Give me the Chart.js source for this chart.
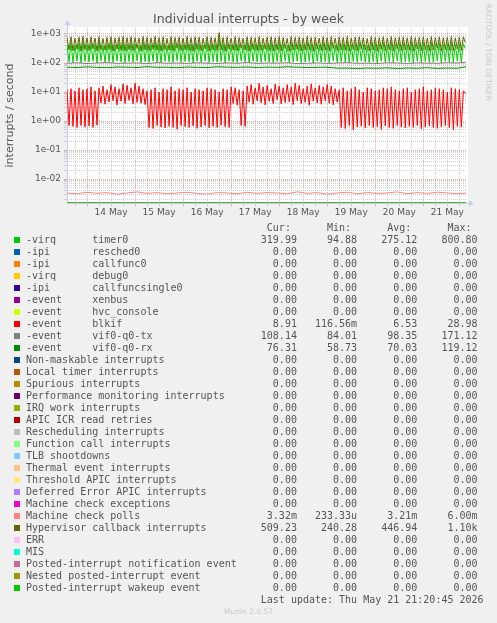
<!DOCTYPE html>
<html>
<head>
<meta charset="utf-8">
<title>Individual interrupts - by week</title>
<script src="https://cdn.jsdelivr.net/npm/chart.js@4.4.1/dist/chart.umd.min.js"></script>
<style>
  body { margin: 0; background: #f0f0f0; width: 497px; height: 623px; overflow: hidden; position: relative; font-family: "DejaVu Sans", sans-serif; color: #555; }
  #chart { position: absolute; left: 0; top: 0; }
  .title { position: absolute; left: 0; width: 497px; top: 11px; text-align: center; font-size: 12.5px; line-height: 16px; color: #555; }
  .rrd { position: absolute; left: 484px; top: 4px; writing-mode: vertical-rl; font-size: 7.5px; color: #c8c8c8; }
  .legend { position: absolute; left: 0; top: 0; font-family: "DejaVu Sans Mono", monospace; font-size: 10px; color: #555; }
  .row { position: absolute; left: 26px; height: 12px; line-height: 12px; white-space: pre; }
  .sw { position: absolute; left: 14px; width: 6px; height: 6px; }
  .munin { position: absolute; left: 0; width: 497px; top: 607px; text-align: center; font-size: 7.5px; line-height: 10px; color: #c8c8c8; }
</style>
</head>
<body>
<canvas id="chart" width="497" height="623"></canvas>
<div class="title">Individual interrupts - by week</div>
<div class="rrd">RRDTOOL / TOBI OETIKER</div>
<div class="legend" id="legend"></div>
<div class="munin">Munin 2.0.57</div>
<script>
// hours counted from 13 May 00:00
const X_MIN = 14;          // 13 May 14:00
const X_MAX = 213.33;      // 21 May 21:20
const Y_MIN = 0.00149;
const Y_MAX = 1610;

// oscillating series, one value per hour starting at X_MIN
const TIMER0 = [
  450,110, 500,105, 420,118, 480,102, 530,112, 440,108, 490,115, 460,100, 540,120, 400,106,
  470,112, 510,104, 430,116, 480,109, 520,101, 450,113, 500,107, 460,119, 420,103, 510,111,
  480,105, 440,117, 530,108, 460,102, 490,114, 400,110, 510,106, 470,120, 480,104, 430,112,
  520,109, 450,101, 500,115, 470,107, 420,118, 510,103, 480,111, 440,106, 800,113, 460,100,
  490,116, 430,108, 510,104, 460,119, 420,110, 500,102, 480,114, 450,107, 520,105, 430,117,
  480,109, 500,103, 450,112, 530,106, 460,118, 410,101, 510,110, 470,115, 490,104, 440,108,
  520,113, 460,100, 480,116, 430,107, 500,111, 470,103, 510,119, 420,105, 490,112, 460,109,
  540,102, 440,114, 480,106, 500,117, 450,108, 410,104, 510,110, 470,101, 460,115, 500,107,
  430,113, 520,103, 450,118, 480,105, 490,111, 440,109, 530,102, 460,116, 480,106, 500,112,
  420,104, 510,108, 460,119, 490,101, 450,114, 470,110, 520,105, 440,117, 480,107, 460,320
];
const HYPERVISOR = [
  760,280, 800,265, 720,300, 780,255, 820,290, 740,270, 790,310, 730,260, 810,285, 700,275,
  770,295, 810,258, 740,305, 780,272, 820,262, 750,288, 800,268, 760,315, 720,255, 810,282,
  770,266, 740,298, 820,276, 760,259, 790,292, 710,280, 810,263, 760,320, 780,270, 730,286,
  820,274, 750,256, 800,296, 770,268, 720,308, 810,261, 780,284, 740,270, 1100,293, 760,255,
  790,302, 730,278, 810,262, 760,318, 720,280, 800,257, 780,294, 750,267, 810,275, 730,305,
  780,272, 800,260, 750,289, 820,266, 760,312, 710,254, 810,281, 770,297, 790,263, 740,279,
  820,291, 760,256, 780,303, 730,270, 800,284, 760,261, 810,316, 720,268, 790,288, 760,274,
  820,259, 740,296, 780,265, 800,309, 750,277, 710,262, 810,283, 770,255, 760,299, 800,271,
  730,290, 810,263, 750,311, 780,269, 790,285, 740,276, 820,258, 760,304, 770,267, 800,292,
  720,262, 810,280, 760,318, 790,257, 750,294, 770,275, 810,264, 740,306, 780,272, 790,509
];
const BLKIF = [
  12,0.7, 13,0.65, 11,0.6, 14,0.7, 12,0.62, 13,0.68, 15,0.6, 11,0.72,
  14,4.2, 16,3.8, 12,4.5, 18,5.0, 15,3.6, 13,4.8, 19,4.0, 17,5.2, 14,3.9, 20,4.4, 16,4.1, 13,3.7,
  11,0.6, 12,0.55, 14,0.7, 10,0.62, 13,0.58, 12,0.66, 15,0.6, 11,0.52, 13,0.7, 12,0.64, 14,0.6,
  10,0.68, 13,0.56, 12,0.62, 11,0.7, 14,0.58, 13,0.66, 12,0.6, 10,0.72, 13,0.64, 12,0.6,
  15,4.0, 14,3.5,
  12,0.7, 11,0.65,
  16,4.5, 18,3.8, 14,5.0, 20,4.2, 15,3.6, 17,4.8, 13,4.0, 19,5.5, 16,3.9, 14,4.3, 18,4.6, 15,3.7,
  20,5.1, 17,4.0, 13,4.4, 16,3.5, 19,4.9, 14,4.2, 17,3.8, 15,5.0, 18,4.1, 16,3.6, 13,4.5,
  12,0.6, 14,0.55, 11,0.7, 13,0.5, 15,0.62, 12,0.66, 10,0.58, 14,0.7, 13,0.6, 11,0.64, 12,0.52,
  14,0.68, 13,0.6, 15,0.56, 12,0.7, 11,0.62, 13,0.58, 14,0.66, 10,0.6, 12,0.7, 13,0.54, 15,0.62,
  11,0.68, 12,0.6, 14,0.56, 13,0.64, 12,0.7, 10,0.6, 14,0.5, 13,0.66, 12,0.62, 11,8.9
];

// slow series, one value every 5 hours starting at X_MIN
const VIF_TX = [98, 102, 96, 100, 104, 97, 99, 101, 95, 103, 98, 100, 97, 102, 99, 96, 101, 98, 104, 97,
  100, 99, 102, 96, 98, 101, 97, 100, 103, 98, 99, 96, 102, 100, 97, 101, 99, 98, 103, 100, 108];
const VIF_RX = [72, 70, 74, 71, 69, 73, 72, 70, 75, 71, 72, 69, 73, 71, 70, 74, 72, 71, 73, 70,
  72, 71, 74, 72, 70, 71, 72, 66, 67, 65, 67, 66, 68, 65, 67, 66, 69, 65, 67, 66, 76];
const MCE_POLLS = [0.0033, 0.0031, 0.0035, 0.0032, 0.0034, 0.0030, 0.0033, 0.0036, 0.0032, 0.0034,
  0.0031, 0.0033, 0.0035, 0.0032, 0.0030, 0.0034, 0.0033, 0.0031, 0.0035, 0.0032, 0.0034, 0.0033,
  0.0031, 0.0036, 0.0032, 0.0034, 0.0030, 0.0033, 0.0035, 0.0031, 0.0034, 0.0032, 0.0033, 0.0036,
  0.0031, 0.0034, 0.0032, 0.0035, 0.0033, 0.0031, 0.0033];
// all other counters stayed at zero, one value every 25 hours
const ZERO = [0, 0, 0, 0, 0, 0, 0, 0, 0];

const LABELS = [
  '-virq      timer0', '-ipi       resched0', '-ipi       callfunc0', '-virq      debug0',
  '-ipi       callfuncsingle0', '-event     xenbus', '-event     hvc_console', '-event     blkif',
  '-event     vif0-q0-tx', '-event     vif0-q0-rx', 'Non-maskable interrupts', 'Local timer interrupts',
  'Spurious interrupts', 'Performance monitoring interrupts', 'IRQ work interrupts', 'APIC ICR read retries',
  'Rescheduling interrupts', 'Function call interrupts', 'TLB shootdowns', 'Thermal event interrupts',
  'Threshold APIC interrupts', 'Deferred Error APIC interrupts', 'Machine check exceptions', 'Machine check polls',
  'Hypervisor callback interrupts', 'ERR', 'MIS', 'Posted-interrupt notification event',
  'Nested posted-interrupt event', 'Posted-interrupt wakeup event'
];
const COLORS = [
  '#00CC00', '#0066B3', '#FF8000', '#FFCC00', '#330099', '#990099', '#CCFF00', '#FF0000',
  '#808080', '#008F00', '#00487D', '#B35A00', '#B38F00', '#6B006B', '#8FB300', '#B30000',
  '#BEBEBE', '#80FF80', '#80C9FF', '#FFC080', '#FFE680', '#AA80FF', '#EE00CC', '#FF8080',
  '#666600', '#FFBFFF', '#00FFCC', '#CC6699', '#999900', '#00CC00'
];
const CUR = ['319.99', '0.00', '0.00', '0.00', '0.00', '0.00', '0.00', '8.91', '108.14', '76.31',
  '0.00', '0.00', '0.00', '0.00', '0.00', '0.00', '0.00', '0.00', '0.00', '0.00', '0.00', '0.00', '0.00',
  '3.32m', '509.23', '0.00', '0.00', '0.00', '0.00', '0.00'];
const MIN = ['94.88', '0.00', '0.00', '0.00', '0.00', '0.00', '0.00', '116.56m', '84.01', '58.73',
  '0.00', '0.00', '0.00', '0.00', '0.00', '0.00', '0.00', '0.00', '0.00', '0.00', '0.00', '0.00', '0.00',
  '233.33u', '240.28', '0.00', '0.00', '0.00', '0.00', '0.00'];
const AVG = ['275.12', '0.00', '0.00', '0.00', '0.00', '0.00', '0.00', '6.53', '98.35', '70.03',
  '0.00', '0.00', '0.00', '0.00', '0.00', '0.00', '0.00', '0.00', '0.00', '0.00', '0.00', '0.00', '0.00',
  '3.21m', '446.94', '0.00', '0.00', '0.00', '0.00', '0.00'];
const MAX = ['800.80', '0.00', '0.00', '0.00', '0.00', '0.00', '0.00', '28.98', '171.12', '119.12',
  '0.00', '0.00', '0.00', '0.00', '0.00', '0.00', '0.00', '0.00', '0.00', '0.00', '0.00', '0.00', '0.00',
  '6.00m', '1.10k', '0.00', '0.00', '0.00', '0.00', '0.00'];
const LAST_UPDATE = 'Last update: Thu May 21 21:20:45 2026';

// zeros go to the bottom edge like rrdtool does on a log graph
function points(values, step) {
  return values.map((v, i) => ({ x: X_MIN + i * step, y: v > 0 ? v : Y_MIN }));
}

const seriesFor = {
  0: points(TIMER0, 1),
  7: points(BLKIF, 1),
  8: points(VIF_TX, 5),
  9: points(VIF_RX, 5),
  23: points(MCE_POLLS, 5),
  24: points(HYPERVISOR, 1)
};

const datasets = LABELS.map((label, i) => ({
  label: label,
  data: seriesFor[i] || points(ZERO, 25),
  borderColor: COLORS[i],
  backgroundColor: COLORS[i],
  borderWidth: 1,
  pointRadius: 0,
  tension: 0,
  order: LABELS.length - i
}));

const isDecade = v => Math.abs(Math.log10(v) - Math.round(Math.log10(v))) < 1e-9;
const MINOR = 'rgba(200,200,200,0.85)';
const MAJOR = 'rgba(230,130,130,0.7)';

const frame = {
  id: 'frame',
  beforeDraw(chart) {
    const a = chart.chartArea, ctx = chart.ctx;
    ctx.save();
    ctx.fillStyle = '#ffffff';
    ctx.fillRect(a.left, a.top - 1, a.right - a.left + 2, a.bottom - a.top + 1);
    ctx.restore();
  },
  beforeDatasetsDraw(chart) {
    const a = chart.chartArea, ctx = chart.ctx;
    ctx.save();
    ctx.strokeStyle = '#c4cdf0';
    ctx.fillStyle = '#c4cdf0';
    ctx.lineWidth = 1;
    ctx.beginPath();
    ctx.moveTo(a.left + 0.5, a.bottom);
    ctx.lineTo(a.left + 0.5, a.top - 5);
    ctx.moveTo(a.left, a.bottom + 0.5);
    ctx.lineTo(a.right + 4, a.bottom + 0.5);
    ctx.stroke();
    ctx.beginPath();
    ctx.moveTo(a.left - 2.5, a.top - 3);
    ctx.lineTo(a.left + 3.5, a.top - 3);
    ctx.lineTo(a.left + 0.5, a.top - 8);
    ctx.closePath();
    ctx.fill();
    ctx.beginPath();
    ctx.moveTo(a.right + 3, a.bottom - 2.5);
    ctx.lineTo(a.right + 3, a.bottom + 3.5);
    ctx.lineTo(a.right + 8, a.bottom + 0.5);
    ctx.closePath();
    ctx.fill();
    ctx.restore();
  }
};

new Chart(document.getElementById('chart'), {
  type: 'line',
  data: { datasets: datasets },
  options: {
    responsive: false,
    animation: false,
    events: [],
    layout: { padding: { left: 0, top: 28, right: 31, bottom: 400 } },
    plugins: { legend: { display: false }, tooltip: { enabled: false }, title: { display: false } },
    scales: {
      x: {
        type: 'linear',
        min: X_MIN,
        max: X_MAX,
        afterBuildTicks: scale => {
          const t = [];
          for (let h = 18; h <= X_MAX; h += 6) t.push({ value: h });
          scale.ticks = t;
        },
        afterFit: scale => { scale.height = 20; },
        grid: {
          color: c => (c.tick && c.tick.value % 24 === 0) ? MAJOR : MINOR,
          lineWidth: 1,
          tickLength: 3
        },
        border: { display: false, dash: [1, 1] },
        ticks: {
          autoSkip: false,
          maxRotation: 0,
          padding: 1,
          color: '#555',
          font: { family: 'DejaVu Sans', size: 9 },
          callback: v => (v % 24 === 12) ? (13 + Math.floor(v / 24)) + ' May' : ''
        }
      },
      y: {
        type: 'logarithmic',
        min: Y_MIN,
        max: Y_MAX,
        afterBuildTicks: scale => {
          const t = [];
          for (let e = -3; e <= 3; e++) {
            for (let m = 1; m <= 9; m++) {
              const v = m * Math.pow(10, e);
              if (v >= Y_MIN && v <= Y_MAX) t.push({ value: v });
            }
          }
          scale.ticks = t;
        },
        afterFit: scale => { scale.width = 67; },
        grid: {
          color: c => (c.tick && isDecade(c.tick.value)) ? MAJOR : MINOR,
          lineWidth: 1,
          tickLength: 3
        },
        border: { display: false, dash: [1, 1] },
        title: {
          display: true,
          text: 'interrupts / second',
          color: '#555',
          font: { family: 'DejaVu Sans', size: 11 },
          padding: { top: 4, bottom: 0 }
        },
        ticks: {
          autoSkip: false,
          padding: 3,
          color: '#555',
          font: { family: 'DejaVu Sans', size: 9 },
          callback: v => {
            if (!isDecade(v)) return '';
            const e = Math.round(Math.log10(v));
            return '1e' + (e < 0 ? '-' : '+') + String(Math.abs(e)).padStart(2, '0');
          }
        }
      }
    }
  },
  plugins: [frame]
});

// legend block under the graph
const legend = document.getElementById('legend');
function addRow(text, top) {
  const d = document.createElement('div');
  d.className = 'row';
  d.style.top = top + 'px';
  d.textContent = text;
  legend.appendChild(d);
}
addRow(' '.repeat(35) + 'Cur: '.padStart(10) + 'Min: '.padStart(10) + 'Avg: '.padStart(10) + 'Max: '.padStart(10), 222);
LABELS.forEach((label, i) => {
  const y = 240 + 12 * i;
  const sw = document.createElement('div');
  sw.className = 'sw';
  sw.style.top = (y - 3) + 'px';
  sw.style.background = COLORS[i];
  legend.appendChild(sw);
  addRow(label.padEnd(35) + CUR[i].padStart(10) + MIN[i].padStart(10) + AVG[i].padStart(10) + MAX[i].padStart(10), y - 6);
});
addRow(LAST_UPDATE.padStart(76), 594);
</script>
</body>
</html>
